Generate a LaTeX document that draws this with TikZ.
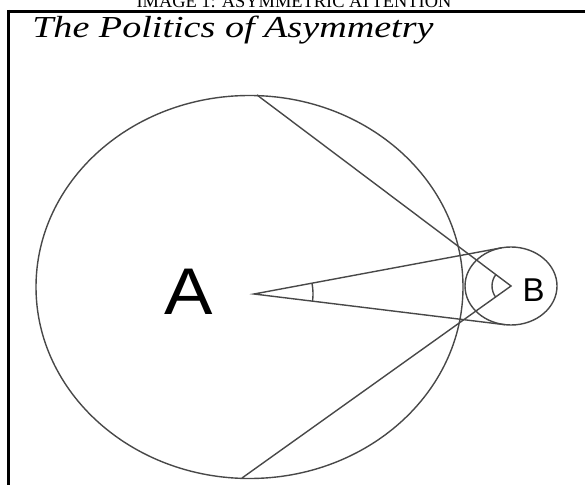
\documentclass[tikz,border=0pt]{standalone}
\usepackage{fontspec}
\setmainfont{Liberation Serif}
\newfontfamily\labelfont{Liberation Sans}
\usetikzlibrary{calc}
\definecolor{linegray}{HTML}{484848}
\tikzset{
  geo/.style={draw=linegray,line width=1.4pt},
  frameline/.style={draw=black,line width=3pt},
  bigpt/.style={font=\labelfont\fontsize{66}{66}\selectfont,inner sep=0pt,xscale=1.1},
  smallpt/.style={font=\labelfont\fontsize{33}{33}\selectfont,inner sep=0pt},
}
\begin{document}
\begin{tikzpicture}[x=1pt,y=1pt]
  \useasboundingbox (0,0) rectangle (585,485);
  \clip (0,0) rectangle (585,485);
  % kopf
  \node[font=\fontsize{18.4}{18.4}\selectfont,anchor=base,inner sep=0pt] (caption) at (294,477.5) {IMAGE 1: ASYMMETRIC ATTENTION};
  \draw[frameline] (7,473.5) -- (585,473.5);
  \draw[frameline] (8.5,475) -- (8.5,0);
  \node[font=\itshape\fontsize{30.5}{30.5}\selectfont,anchor=base west,inner sep=0pt,xscale=1.25] (title) at (32,447) {The Politics of Asymmetry};
  % punkte
  \coordinate (pA) at (254,191);
  \coordinate (pB) at (511,199);
  \coordinate (pT) at (257,390);
  \coordinate (pU) at (242,7);
  \coordinate (tU) at (501.6,237.2);
  \coordinate (tL) at (504.9,160.3);
  \node[bigpt] (A) at (189,193.5) {A};
  \node[smallpt] (B) at (533.5,195) {B};
  % kreise
  \draw[geo] (249.5,198) ellipse [x radius=213.5,y radius=191.5];
  \draw[geo] (pB) ellipse [x radius=46,y radius=39];
  % linien
  \draw[geo] (pT) -- (pB) -- (pU);
  \draw[geo] (tU) -- (pA) -- (tL);
  \draw[geo] ($(pA)+(-7:59)$) arc [start angle=-7,end angle=10.6,radius=59];
  \draw[geo] ($(pB)+(143.1:19)$) arc [start angle=143.1,end angle=215.5,radius=19];
\end{tikzpicture}
\end{document}
